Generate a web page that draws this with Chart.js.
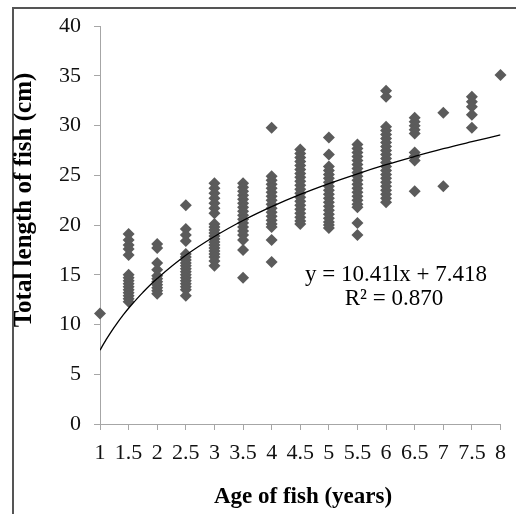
<!DOCTYPE html>
<html>
<head>
<meta charset="utf-8">
<script src="https://cdn.jsdelivr.net/npm/chart.js@4.4.1/dist/chart.umd.min.js"></script>
<style>
    html, body { margin: 0; padding: 0; background: #fff; }
    #wrap { position: relative; width: 516px; height: 514px; overflow: hidden; }
    #frame { position: absolute; left: 12px; top: 7px; width: 600px; height: 600px;
             border-left: 2px solid #555; border-top: 2px solid #555; }
    #fishChart { position: absolute; left: 0; top: 0; }
</style>
</head>
<body>
<div id="wrap">
    <div id="frame"></div>
    <canvas id="fishChart" width="516" height="514"></canvas>
</div>
<script>
// ages on the x axis (years)
const ages = [1, 1.5, 2, 2.5, 3, 3.5, 4, 4.5, 5, 5.5, 6, 6.5, 7, 7.5, 8];

// total length (cm) of each fish, grouped by age
const lengthsAge1 = [11.1];
const lengthsAge15 = [19.1, 18.5, 18.0, 17.6, 17.0, 15.0, 14.7, 14.4, 14.1, 13.8, 13.5, 13.2, 12.9, 12.6, 12.3];
const lengthsAge2 = [18.1, 17.7, 16.2, 15.5, 14.9, 14.6, 14.3, 14.0, 13.7, 13.4, 13.1];
const lengthsAge25 = [22.0, 19.6, 19.0, 18.4, 17.1, 16.8, 16.5, 16.2, 15.9, 15.6, 15.3, 15.0, 14.7, 14.4, 14.1, 13.8, 13.5, 12.9];
const lengthsAge3 = [24.2, 23.7, 23.2, 22.7, 22.2, 21.7, 21.2, 20.1, 19.8, 19.5, 19.2, 18.9, 18.6, 18.3, 18.0, 17.7, 17.4, 17.1, 16.8, 16.4, 15.9];
const lengthsAge35 = [24.2, 23.8, 23.4, 23.0, 22.6, 22.2, 21.8, 21.4, 21.0, 20.6, 20.2, 19.8, 19.4, 19.0, 18.5, 17.5, 14.7];
const lengthsAge4 = [29.8, 24.9, 24.5, 24.1, 23.7, 23.3, 22.9, 22.5, 22.1, 21.7, 21.3, 20.9, 20.5, 20.1, 19.8, 18.5, 16.3];
const lengthsAge45 = [27.6, 27.2, 26.8, 26.4, 26.0, 25.6, 25.2, 24.8, 24.4, 24.0, 23.6, 23.2, 22.8, 22.4, 22.0, 21.6, 21.2, 20.8, 20.4, 20.1];
const lengthsAge5 = [28.8, 27.1, 25.9, 25.5, 25.1, 24.7, 24.3, 23.9, 23.5, 23.1, 22.7, 22.3, 21.9, 21.5, 21.1, 20.7, 20.3, 20.0, 19.7];
const lengthsAge55 = [28.1, 27.7, 27.3, 26.9, 26.5, 26.1, 25.7, 25.3, 24.9, 24.5, 24.1, 23.7, 23.3, 22.9, 22.5, 22.1, 21.8, 20.2, 19.0];
const lengthsAge6 = [33.5, 32.9, 29.9, 29.5, 29.1, 28.7, 28.3, 27.9, 27.5, 27.1, 26.7, 26.3, 25.9, 25.5, 25.1, 24.7, 24.3, 23.9, 23.5, 23.1, 22.7, 22.3];
const lengthsAge65 = [30.8, 30.4, 30.0, 29.6, 29.2, 27.3, 26.9, 26.5, 23.4];
const lengthsAge7 = [31.3, 23.9];
const lengthsAge75 = [32.9, 32.4, 31.9, 31.1, 29.8];
const lengthsAge8 = [35.1];

const lengthsByAge = [lengthsAge1, lengthsAge15, lengthsAge2, lengthsAge25, lengthsAge3, lengthsAge35,
    lengthsAge4, lengthsAge45, lengthsAge5, lengthsAge55, lengthsAge6, lengthsAge65,
    lengthsAge7, lengthsAge75, lengthsAge8];

// logarithmic trendline
const trendAges = [1, 1.05, 1.1, 1.2, 1.3, 1.4, 1.5, 1.75, 2, 2.5, 3, 3.5, 4, 4.5, 5, 5.5, 6, 6.5, 7, 7.5, 8];
const trendLengths = [7.42, 7.93, 8.41, 9.32, 10.15, 10.92, 11.64, 13.24, 14.63, 16.96, 18.85, 20.46, 21.85,
    23.08, 24.17, 25.16, 26.07, 26.90, 27.68, 28.39, 29.07];

const xTicks = [1, 1.5, 2, 2.5, 3, 3.5, 4, 4.5, 5, 5.5, 6, 6.5, 7, 7.5, 8];
const yTicks = [0, 5, 10, 15, 20, 25, 30, 35, 40];

const equationText = 'y = 10.41lx + 7.418';
const rSquaredText = 'R\u00b2 = 0.870';
const xTitle = 'Age of fish (years)';
const yTitle = 'Total length of fish (cm)';

const serif = "'Liberation Serif', 'Times New Roman', serif";

const fishPoints = [];
ages.forEach((age, i) => {
    lengthsByAge[i].forEach(len => fishPoints.push({ x: age, y: len }));
});
const trendPoints = trendAges.map((a, i) => ({ x: a, y: trendLengths[i] }));

const textPlugin = {
    id: 'chartText',
    afterDraw(chart) {
        const ctx = chart.ctx;
        ctx.save();
        ctx.fillStyle = '#000';
        ctx.textAlign = 'center';
        ctx.textBaseline = 'middle';

        ctx.font = '23px ' + serif;
        ctx.fillText(equationText, 396, 275);
        ctx.fillText(rSquaredText, 394, 299);

        ctx.font = 'bold 23px ' + serif;
        ctx.fillText(xTitle, 303, 497);

        ctx.font = 'bold 25px ' + serif;
        ctx.translate(25, 200);
        ctx.rotate(-Math.PI / 2);
        ctx.fillText(yTitle, 0, 0);
        ctx.restore();
    }
};

const axisColor = '#a6a6a6';

new Chart(document.getElementById('fishChart').getContext('2d'), {
    type: 'scatter',
    data: {
        datasets: [
            {
                type: 'line',
                data: trendPoints,
                borderColor: '#000',
                borderWidth: 1.3,
                pointRadius: 0,
                tension: 0.4,
                fill: false,
                order: 0
            },
            {
                data: fishPoints,
                pointStyle: 'rectRot',
                pointRadius: 6,
                backgroundColor: '#5b5b5b',
                borderColor: '#5b5b5b',
                borderWidth: 0,
                clip: false,
                order: 1
            }
        ]
    },
    options: {
        responsive: false,
        animation: false,
        events: [],
        layout: { padding: { left: 0, right: 15, top: 19, bottom: 0 } },
        plugins: {
            legend: { display: false },
            tooltip: { enabled: false }
        },
        scales: {
            x: {
                type: 'linear',
                min: 1,
                max: 8,
                afterFit: scale => { scale.height = 90; },
                afterBuildTicks: scale => { scale.ticks = xTicks.map(v => ({ value: v })); },
                ticks: {
                    autoSkip: false,
                    maxRotation: 0,
                    padding: 10,
                    color: '#111',
                    font: { family: serif, size: 22 },
                    callback: v => String(v)
                },
                grid: { drawOnChartArea: false, color: axisColor, tickLength: 6 },
                border: { color: axisColor }
            },
            y: {
                min: 0,
                max: 40,
                afterFit: scale => { scale.width = 100; },
                afterBuildTicks: scale => { scale.ticks = yTicks.map(v => ({ value: v })); },
                ticks: {
                    padding: 13,
                    color: '#111',
                    font: { family: serif, size: 22 },
                    callback: v => String(v)
                },
                grid: { drawOnChartArea: false, color: axisColor, tickLength: 6 },
                border: { color: axisColor }
            }
        }
    },
    plugins: [textPlugin]
});
</script>
</body>
</html>
